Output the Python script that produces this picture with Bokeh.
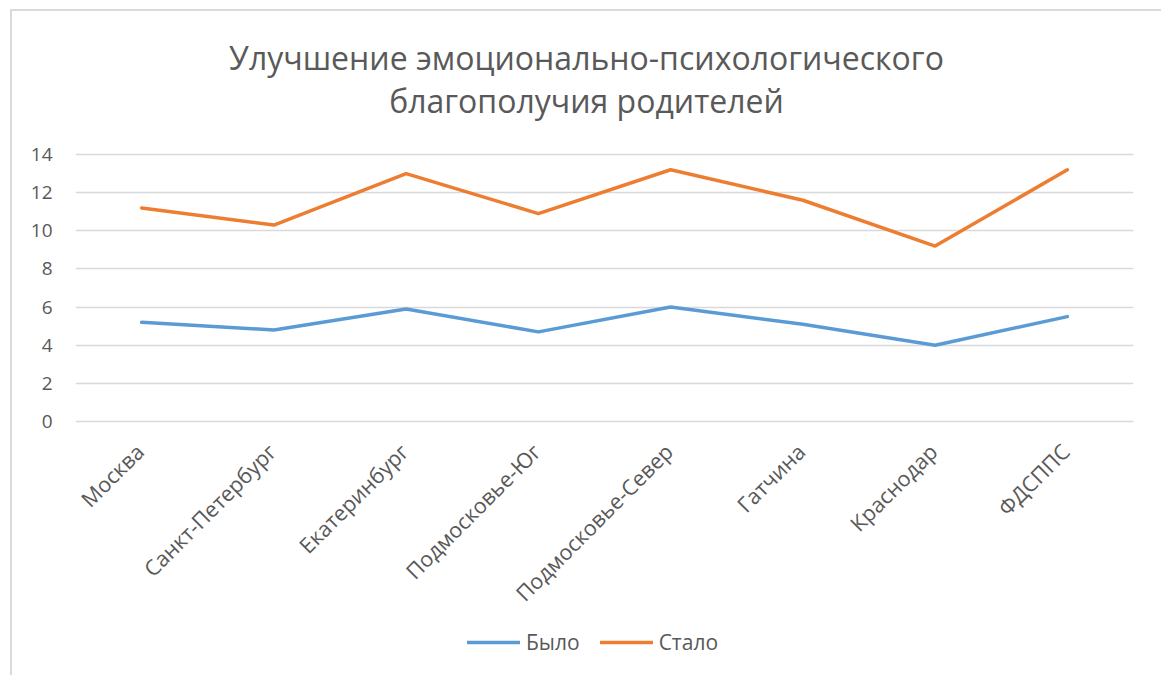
from bokeh.plotting import figure
from bokeh.models import Range1d, Legend, LegendItem, FixedTicker, Label
from bokeh.core.properties import value
from bokeh.embed import file_html
from bokeh.resources import INLINE
import math

categories = ["Москва", "Санкт-Петербург", "Екатеринбург", "Подмосковье-Юг",
              "Подмосковье-Север", "Гатчина", "Краснодар", "ФДСППС"]
bylo = [5.2, 4.8, 5.9, 4.7, 6.0, 5.1, 4.0, 5.5]
stalo = [11.2, 10.3, 13.0, 10.9, 13.2, 11.6, 9.2, 13.2]
y_ticks = [0, 2, 4, 6, 8, 10, 12, 14]
title_lines = ["Улучшение эмоционально-психологического", "благополучия родителей"]

FONT = "Open Sans"
GREY = "#595959"
BORDER = "#d9d9d9"

# value axis 0..14 occupies 267 px; the frame is extended above and below
# so that title, category labels and legend live inside it
PX = 267 / 14.0
Y_LO = -(675 - 421) / PX
Y_HI = 14 + 154 / PX

p = figure(x_range=categories, y_range=Range1d(Y_LO, Y_HI),
           width=1161, height=675, output_backend="svg", toolbar_location=None,
           min_border_left=75, min_border_right=28, min_border_top=0, min_border_bottom=0)
p.outline_line_color = None
p.background_fill_color = None
p.border_fill_color = None
# light-grey chart-area border (left and top edges), drawn behind the transparent canvas
p.styles = {
    "background": (f"linear-gradient({BORDER},{BORDER}) 10px 9px / 2px 100% no-repeat, "
                   f"linear-gradient({BORDER},{BORDER}) 10px 9px / 100% 2px no-repeat, white")
}

r1 = p.line(categories, bylo, line_color="#5b9bd5", line_width=3.5, line_cap="round", line_join="round")
r2 = p.line(categories, stalo, line_color="#ed7d31", line_width=3.5, line_cap="round", line_join="round")

p.yaxis.ticker = FixedTicker(ticks=y_ticks)
p.yaxis.axis_line_color = None
p.yaxis.major_tick_line_color = None
p.yaxis.major_tick_out = 0
p.yaxis.minor_tick_line_color = None
p.yaxis.minor_tick_out = 0
p.yaxis.major_label_text_font = FONT
p.yaxis.major_label_text_font_size = "19px"
p.yaxis.major_label_text_color = GREY
p.yaxis.major_label_standoff = 23

p.xaxis.visible = False
p.xgrid.grid_line_color = None
p.ygrid.grid_line_color = BORDER
p.ygrid.grid_line_width = 1.5

# category labels, rotated 45 degrees, ending under each category
label_y = -26 / PX
p.text(x=categories, y=[label_y] * len(categories), text=categories,
       angle=math.pi / 4, text_align="right", text_baseline="middle", x_offset=-2,
       text_font=value(FONT), text_font_size="21.5px", text_color=GREY)

# two-line centred title
for txt, ypix in zip(title_lines, [57, 100]):
    p.add_layout(Label(x=(586 - 75) / 132.25, y=(421 - ypix) / PX, text=txt,
                       text_align="center", text_baseline="middle", text_font=FONT,
                       text_font_size="32px", text_color=GREY))

legend = Legend(items=[LegendItem(label="Было", renderers=[r1]),
                       LegendItem(label="Стало", renderers=[r2])],
                orientation="horizontal", location=(392, 19),
                label_text_font=FONT, label_text_font_size="21px", label_text_color=GREY,
                glyph_width=53, spacing=20, label_standoff=6, padding=0, margin=0,
                border_line_color=None, background_fill_alpha=0)
p.add_layout(legend, "center")

open("out.html", "w").write(file_html(p, INLINE))
